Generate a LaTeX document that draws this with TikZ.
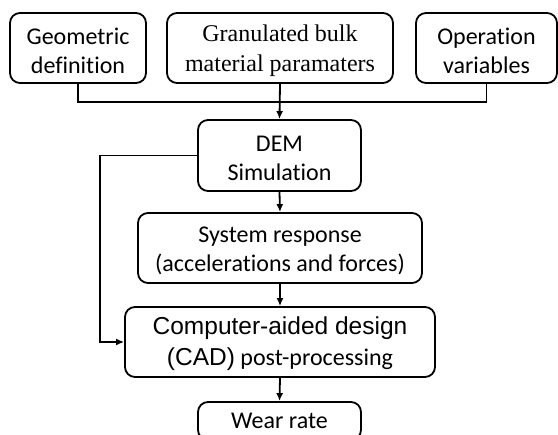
\documentclass[tikz,border=0pt]{standalone}
\usepackage{fontspec}
\setmainfont{Carlito}[Ligatures=NoCommon]
\newfontfamily\serifbox{Liberation Serif}
\newfontfamily\arialbox{Liberation Sans}
\usetikzlibrary{arrows.meta}

\tikzset{
	stage/.style={draw, line width=1.8pt, rounded corners=10pt, align=center, inner sep=0pt, font=\fontsize{24}{29}\selectfont},
	flow/.style={line width=1.8pt},
	flowarrow/.style={line width=1.8pt, -{Latex[length=8pt,width=7pt]}}
}
% top strut to push the text a little lower in its box
\newcommand{\lowtop}{\rule{0pt}{22pt}}

\begin{document}
\begin{tikzpicture}[x=1pt,y=-1pt]
	\useasboundingbox (0,0) rectangle (558,435);
	\clip (0,0) rectangle (558,435);

	% Draw the three input boxes
	\node[stage, minimum width=136pt, minimum height=70pt] (geo) at (78,48) {\lowtop Geometric\\definition};
	\node[stage, minimum width=226pt, minimum height=70pt, font=\serifbox\fontsize{24}{30}\selectfont] (gran) at (280,48) {\lowtop Granulated bulk\\material paramaters};
	\node[stage, minimum width=141pt, minimum height=70pt] (oper) at (486.5,48) {\lowtop Operation\\variables};

	% Draw the process chain
	\node[stage, minimum width=163pt, minimum height=71pt] (dem) at (279.5,155.5) {\lowtop DEM\\Simulation};
	\node[stage, minimum width=284pt, minimum height=70pt] (sys) at (280,248) {\lowtop System response\\(accelerations and forces)};
	\node[stage, minimum width=310pt, minimum height=70pt, font=\fontsize{24}{31}\selectfont] (cad) at (280,342) {\lowtop{\arialbox\fontsize{24.5}{31}\selectfont Computer-aided design}\\{\arialbox\fontsize{24.5}{31}\selectfont (CAD)} post-processing};
	\node[stage, minimum width=163pt, minimum height=38pt] (wear) at (279.5,421) {Wear rate};

	% Join the inputs
	\coordinate (join) at (280,102);
	\coordinate (back) at (100,155.5);
	\draw[flow] (geo.south) |- (join);
	\draw[flow] (oper.south) |- (join);
	\draw[flowarrow] (gran.south) -- (dem.north);

	% Draw the arrows down the chain
	\draw[flowarrow] (dem.south) -- (sys.north);
	\draw[flowarrow] (sys.south) -- (cad.north);
	\draw[flowarrow] (cad.south) -- (wear.north);

	% Draw the bypass to the CAD step
	\draw[flowarrow] (dem.west) -- (back) |- (cad.west);
\end{tikzpicture}
\end{document}
